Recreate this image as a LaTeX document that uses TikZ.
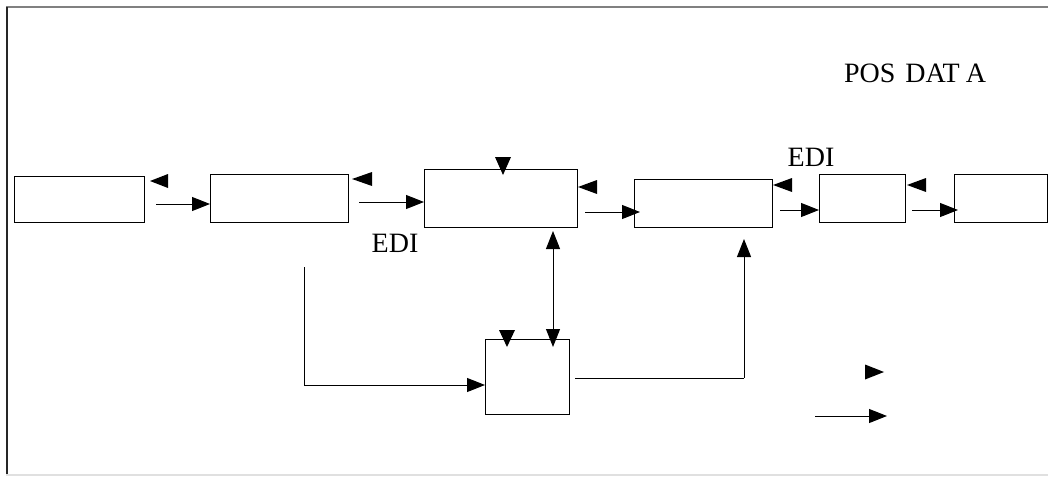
\documentclass[tikz,border=0pt]{standalone}
\usepackage{fontspec}
\setmainfont{Liberation Serif}
\usetikzlibrary{arrows.meta}
\begin{document}
\begin{tikzpicture}[x=1pt,y=-1pt,
  box/.style={draw=black,line width=1pt,inner sep=0pt,outer sep=0pt,fill=white},
  arr/.style={line width=1pt,-{Triangle[length=18pt,width=14pt]}},
  dblarr/.style={line width=1pt,{Triangle[length=18pt,width=14pt]}-{Triangle[length=18pt,width=14pt]}},
  wire/.style={line width=1pt},
  tipmark/.style={fill=black},
  lbl/.style={inner sep=0pt,font=\fontsize{28}{31}\selectfont}]
\useasboundingbox (0,0) rectangle (1048,476);

% frame
\draw[line width=2pt,draw=gray] (6,7.5) -- (1048,7.5);
\draw[line width=2pt,draw=black!85] (6.5,7) -- (6.5,476);
\draw[line width=2pt,draw=black!12] (6,475) -- (1048,475);

% boxes
\node[box,minimum width=130pt,minimum height=46pt] (b1) at (79,199) {};
\node[box,minimum width=138pt,minimum height=48pt] (b2) at (279,198) {};
\node[box,minimum width=153pt,minimum height=58pt] (b3) at (500.5,198) {};
\node[box,minimum width=138pt,minimum height=48pt] (b4) at (703,203) {};
\node[box,minimum width=84pt,minimum height=75pt] (b5) at (527,376.5) {};
\node[box,minimum width=86pt,minimum height=48pt] (b6) at (862,198) {};
\node[box,minimum width=93pt,minimum height=48pt] (b7) at (1000.5,198) {};

% forward flow
\coordinate (s12) at (156,204);
\coordinate (s23) at (359,202);
\coordinate (s34) at (585,212);
\coordinate (s46) at (780,210);
\coordinate (s67) at (912,210);
\draw[arr] (s12) -- (s12 -| b2.west);
\draw[arr] (s23) -- (s23 -| b3.west);
\draw[arr] (s34) -- ([xshift=6pt]s34 -| b4.west);
\draw[arr] (s46) -- (s46 -| b6.west);
\draw[arr] (s67) -- ([xshift=4pt]s67 -| b7.west);

% return markers
\fill[tipmark] (150,181) -- (168,174) -- (168,188) -- cycle;
\fill[tipmark] (352,179) -- (372,172) -- (372,186) -- cycle;
\fill[tipmark] (578,187) -- (597,180) -- (597,194) -- cycle;
\fill[tipmark] (773,185) -- (792,178) -- (792,192) -- cycle;
\fill[tipmark] (907,185) -- (926,178) -- (926,192) -- cycle;
\fill[tipmark] (503,175) -- (495,157) -- (511,157) -- cycle;
\fill[tipmark] (507,347) -- (499,330) -- (515,330) -- cycle;
\fill[tipmark] (884,372) -- (865,364.5) -- (865,379.5) -- cycle;

% exchange between b3 and b5
\coordinate (u3) at (553,231);
\coordinate (d5) at (553,347);
\draw[dblarr] (u3) -- (d5);

% b5 to b4
\coordinate (o5) at (575,378);
\coordinate (u4) at (744,239);
\draw[wire] (o5) -- (o5 -| u4);
\draw[arr] (o5 -| u4) -- (u4);

% b2 to b5
\coordinate (o2) at (304,267);
\coordinate (k2) at (304,385);
\draw[wire] (o2) -- (k2);
\draw[arr] (k2) -- (k2 -| b5.west);

% legend arrow
\coordinate (lg1) at (815,416);
\coordinate (lg2) at (887,416);
\draw[arr] (lg1) -- (lg2);

% labels
\node[lbl] (edi1) at (395,243) {EDI};
\node[lbl] (edi2) at (811,157) {EDI};
\node[lbl] (pos) at (915,73) {POS\hspace{10pt}DAT\hspace{6pt}A};
\end{tikzpicture}
\end{document}
